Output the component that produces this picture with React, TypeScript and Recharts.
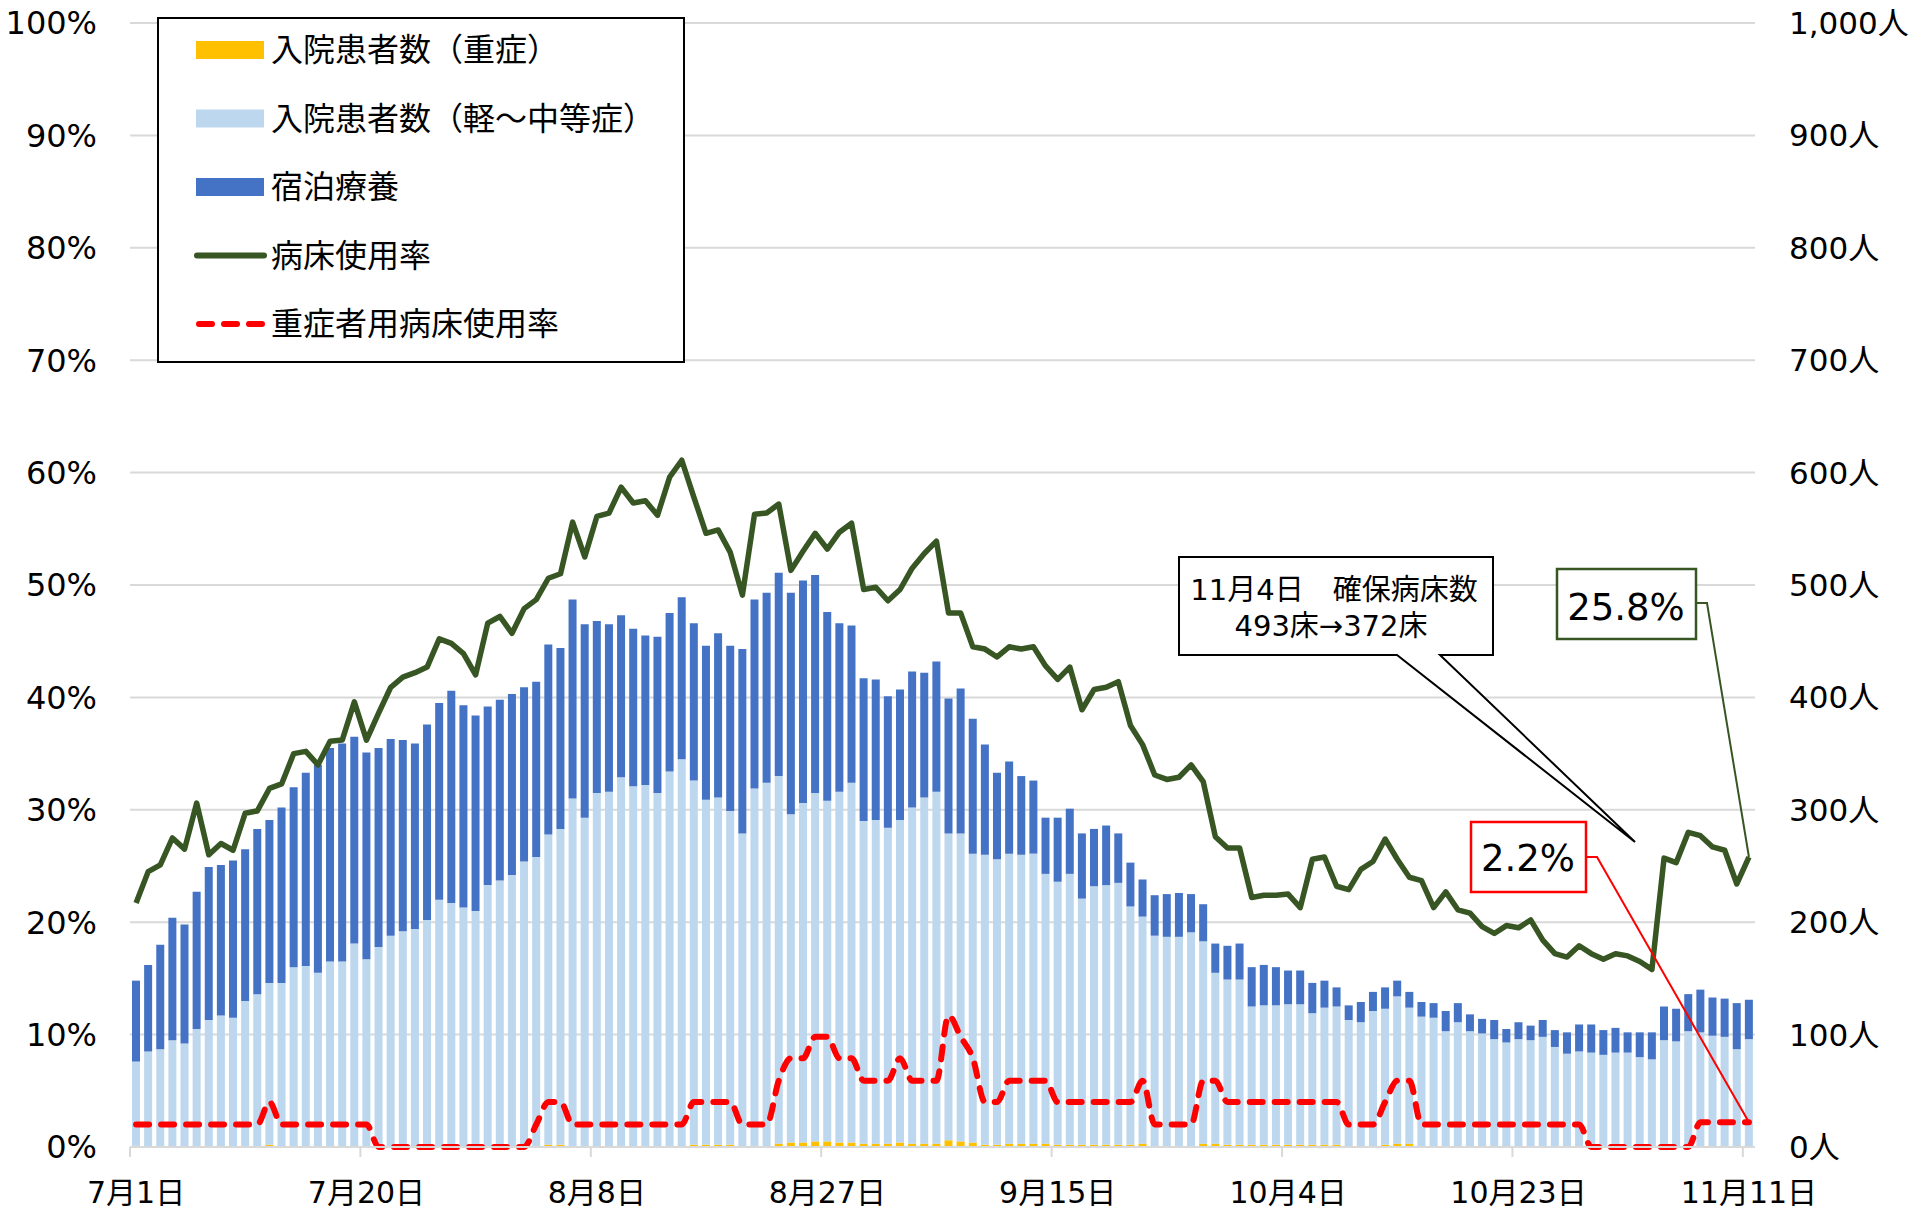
import React from "react";
import {
  ComposedChart,
  Bar,
  Line,
  XAxis,
  YAxis,
  CartesianGrid,
  LabelList,
} from "recharts";

// month, first day, last day shown
const monthSpans: [number, number, number][] = [
  [7, 1, 31],
  [8, 1, 31],
  [9, 1, 30],
  [10, 1, 31],
  [11, 1, 11],
];

const tickLabels = ["7月1日", "7月20日", "8月8日", "8月27日", "9月15日", "10月4日", "10月23日", "11月11日"];
const leftTicks = [0, 10, 20, 30, 40, 50, 60, 70, 80, 90, 100];
const rightTicks = [0, 100, 200, 300, 400, 500, 600, 700, 800, 900, 1000];

// 入院患者数（重症） 人
const severe = [
  1, 1, 1, 1, 1, 1, 1, 1, 1, 1, 1, 2, 1, 1, 1, 1, 1, 1, 1, 1,
  0, 0, 0, 0, 0, 0, 0, 0, 0, 0, 0, 0, 0, 1, 2, 2, 1, 1, 1, 1,
  1, 1, 1, 1, 1, 1, 2, 2, 2, 2, 1, 1, 1, 3, 4, 4, 5, 5, 4, 4,
  3, 3, 3, 4, 3, 3, 3, 6, 5, 4, 2, 2, 3, 3, 3, 3, 2, 2, 2, 2,
  2, 2, 2, 3, 1, 1, 1, 1, 3, 3, 2, 2, 2, 2, 2, 2, 2, 2, 2, 2,
  1, 1, 1, 2, 3, 3, 1, 1, 1, 1, 1, 1, 1, 1, 1, 1, 1, 1, 1, 1,
  0, 0, 0, 0, 0, 0, 0, 0, 0, 1, 1, 1, 1, 1,
];

// 入院患者数（軽～中等症） 人
const mild = [
  75, 84, 86, 94, 91, 104, 112, 116, 114, 129, 135, 144, 145, 159, 160, 154, 164, 164, 180, 166,
  178, 188, 192, 194, 202, 220, 217, 213, 210, 233, 237, 242, 254, 257, 276, 281, 309, 292, 314, 315,
  328, 320, 321, 314, 333, 344, 324, 307, 309, 297, 278, 318, 323, 327, 292, 302, 310, 303, 312, 320,
  287, 288, 281, 287, 299, 308, 313, 273, 274, 257, 258, 254, 258, 257, 258, 240, 234, 241, 219, 230,
  231, 233, 212, 202, 187, 186, 186, 190, 180, 152, 147, 147, 123, 124, 124, 125, 125, 117, 122, 123,
  112, 110, 120, 121, 131, 121, 115, 114, 102, 110, 102, 100, 95, 92, 95, 94, 97, 88, 82, 84,
  84, 82, 84, 84, 80, 78, 95, 94, 103, 101, 98, 97, 86, 95,
];

// 宿泊療養 人
const hotel = [
  72, 77, 93, 109, 106, 122, 136, 134, 140, 135, 147, 145, 156, 160, 172, 185, 190, 194, 184, 184,
  177, 175, 170, 165, 174, 175, 189, 180, 174, 159, 161, 161, 155, 156, 169, 161, 177, 172, 153, 149,
  144, 140, 133, 139, 141, 144, 140, 137, 146, 147, 164, 168, 169, 181, 197, 198, 194, 168, 150, 140,
  127, 125, 117, 116, 121, 111, 116, 120, 129, 120, 98, 77, 82, 70, 65, 50, 57, 58, 58, 51,
  53, 44, 39, 33, 36, 38, 39, 34, 33, 26, 30, 32, 35, 36, 34, 30, 30, 27, 24, 17,
  13, 18, 17, 19, 14, 14, 13, 13, 18, 17, 15, 13, 17, 12, 15, 13, 15, 15, 19, 24,
  25, 22, 22, 18, 22, 24, 30, 29, 33, 38, 34, 34, 41, 35,
];

// 病床使用率 %
const bedRate = [
  21.7, 24.5, 25.1, 27.5, 26.5, 30.6, 26.0, 27.0, 26.4, 29.7, 29.9, 31.9, 32.3, 35.0, 35.2, 34.0, 36.1, 36.2, 39.6, 36.2,
  38.6, 40.9, 41.8, 42.2, 42.7, 45.2, 44.8, 43.9, 42.0, 46.6, 47.2, 45.7, 47.9, 48.7, 50.6, 51.0, 55.6, 52.5, 56.1, 56.4,
  58.7, 57.3, 57.5, 56.2, 59.6, 61.1, 57.8, 54.6, 54.9, 52.9, 49.1, 56.3, 56.4, 57.2, 51.3, 53.0, 54.6, 53.2, 54.7, 55.5,
  49.6, 49.8, 48.6, 49.6, 51.5, 52.8, 53.9, 47.5, 47.5, 44.5, 44.3, 43.6, 44.5, 44.3, 44.5, 42.8, 41.6, 42.7, 38.9, 40.7,
  40.9, 41.4, 37.5, 35.8, 33.1, 32.7, 32.9, 34.0, 32.5, 27.6, 26.6, 26.6, 22.2, 22.4, 22.4, 22.5, 21.3, 25.6, 25.8, 23.2,
  22.9, 24.7, 25.4, 27.4, 25.6, 24.0, 23.7, 21.3, 22.7, 21.1, 20.8, 19.6, 19.0, 19.7, 19.5, 20.2, 18.4, 17.2, 16.9, 17.9,
  17.2, 16.7, 17.2, 17.0, 16.5, 15.8, 25.7, 25.3, 28.0, 27.7, 26.7, 26.4, 23.4, 25.8,
];

// 重症者用病床使用率 %
const severeBedRate = [
  2.0, 2.0, 2.0, 2.0, 2.0, 2.0, 2.0, 2.0, 2.0, 2.0, 2.0, 4.0, 2.0, 2.0, 2.0, 2.0, 2.0, 2.0, 2.0, 2.0,
  0, 0, 0, 0, 0, 0, 0, 0, 0, 0, 0, 0, 0, 2.0, 4.0, 4.0, 2.0, 2.0, 2.0, 2.0,
  2.0, 2.0, 2.0, 2.0, 2.0, 2.0, 4.0, 4.0, 4.0, 4.0, 2.0, 2.0, 2.0, 5.9, 7.9, 7.9, 9.8, 9.8, 7.9, 7.9,
  5.9, 5.9, 5.9, 7.9, 5.9, 5.9, 5.9, 11.7, 9.8, 7.9, 4.0, 4.0, 5.9, 5.9, 5.9, 5.9, 4.0, 4.0, 4.0, 4.0,
  4.0, 4.0, 4.0, 5.9, 2.0, 2.0, 2.0, 2.0, 5.9, 5.9, 4.0, 4.0, 4.0, 4.0, 4.0, 4.0, 4.0, 4.0, 4.0, 4.0,
  2.0, 2.0, 2.0, 4.0, 5.9, 5.9, 2.0, 2.0, 2.0, 2.0, 2.0, 2.0, 2.0, 2.0, 2.0, 2.0, 2.0, 2.0, 2.0, 2.0,
  0, 0, 0, 0, 0, 0, 0, 0, 0, 2.2, 2.2, 2.2, 2.2, 2.2,
];

const dates: string[] = [];
monthSpans.forEach(([m, first, last]) => {
  for (let d = first; d <= last; d++) dates.push(`${m}月${d}日`);
});

const data = dates.map((date, i) => ({
  date,
  severe: severe[i],
  mild: mild[i],
  hotel: hotel[i],
  bedRate: bedRate[i],
  severeBedRate: severeBedRate[i],
}));

const W = 1915;
const H = 1209;
const LEFT_W = 130;
const RIGHT_W = 160;
const TOP = 23;
const X_H = 62;
const BAND = (W - LEFT_W - RIGHT_W) / dates.length;

const FONT = "'DejaVu Sans', 'Noto Sans CJK JP', sans-serif";
const TEXT = "#000";
const GRID = "#D9D9D9";
const YELLOW = "#FFC000";
const LIGHT = "#BDD7EE";
const DARK = "#4472C4";
const GREEN = "#375623";
const RED = "#FF0000";

const XTick = (props: any) => {
  const { x, y, payload } = props;
  const tx = x - BAND / 2;
  return (
    <g>
      <line x1={tx} x2={tx} y1={y} y2={y + 10} stroke={GRID} strokeWidth={2} />
      <text x={x} y={y + 56} textAnchor="middle" fontSize={30} fontFamily={FONT} fill={TEXT}>
        {payload.value}
      </text>
    </g>
  );
};

const lastIndex = dates.length - 1;

const RateLabel = (props: any) => {
  const { x, y, index } = props;
  if (index !== lastIndex) return null;
  return (
    <g>
      <polyline points={`${x},${y} 1707,603 1696,603`} fill="none" stroke={GREEN} strokeWidth={2} />
      <rect x={1557} y={569} width={139} height={70} fill="#fff" stroke={GREEN} strokeWidth={2.5} />
      <text x={1626} y={620} textAnchor="middle" fontSize={37} fontFamily={FONT} fill={TEXT}>
        25.8%
      </text>
    </g>
  );
};

const SevereLabel = (props: any) => {
  const { x, y, index } = props;
  if (index !== lastIndex) return null;
  return (
    <g>
      <polyline points={`${x},${y} 1597,857 1586,857`} fill="none" stroke={RED} strokeWidth={2} />
      <rect x={1471} y={822} width={115} height={70} fill="#fff" stroke={RED} strokeWidth={2.5} />
      <text x={1528} y={871} textAnchor="middle" fontSize={37} fontFamily={FONT} fill={TEXT}>
        2.2%
      </text>
    </g>
  );
};

const legendRows = [
  { label: "入院患者数（重症）", kind: "bar", color: YELLOW },
  { label: "入院患者数（軽～中等症）", kind: "bar", color: LIGHT },
  { label: "宿泊療養", kind: "bar", color: DARK },
  { label: "病床使用率", kind: "line", color: GREEN },
  { label: "重症者用病床使用率", kind: "dash", color: RED },
];

function Overlay() {
  return (
    <svg
      width={W}
      height={H}
      style={{ position: "absolute", left: 0, top: 0, pointerEvents: "none" }}
    >
      <rect x={158} y={18} width={526} height={344} fill="#fff" stroke="#000" strokeWidth={2} />
      {legendRows.map((r, i) => {
        const cy = 50 + i * 68.5;
        return (
          <g key={r.label}>
            {r.kind === "bar" && <rect x={196} y={cy - 9} width={68} height={18} fill={r.color} />}
            {r.kind === "line" && (
              <line x1={197} x2={264} y1={cy} y2={cy} stroke={r.color} strokeWidth={6} strokeLinecap="round" />
            )}
            {r.kind === "dash" && (
              <line
                x1={199}
                x2={262}
                y1={cy}
                y2={cy}
                stroke={r.color}
                strokeWidth={6}
                strokeLinecap="round"
                strokeDasharray="13 12"
              />
            )}
            <text x={271} y={cy + 11} fontSize={32} fontFamily={FONT} fill={TEXT}>
              {r.label}
            </text>
          </g>
        );
      })}

      <path
        d="M1179,557 H1493 V655 H1440 L1635,842 L1397,655 H1179 Z"
        fill="#fff"
        stroke="#000"
        strokeWidth={2}
      />
      <text x={1334} y={600} textAnchor="middle" fontSize={29} fontFamily={FONT} fill={TEXT}>
        11月4日　確保病床数
      </text>
      <text x={1331} y={636} textAnchor="middle" fontSize={29} fontFamily={FONT} fill={TEXT}>
        493床→372床
      </text>
    </svg>
  );
}

export default function App() {
  return (
    <div style={{ position: "absolute", left: 0, top: 0, width: W, height: H, background: "#fff" }}>
      <ComposedChart
        width={W}
        height={H}
        data={data}
        margin={{ top: TOP, right: 0, bottom: 0, left: 0 }}
      >
        <CartesianGrid vertical={false} stroke={GRID} strokeWidth={2} yAxisId="left" />
        <XAxis
          dataKey="date"
          height={X_H}
          ticks={tickLabels}
          interval={0}
          tick={<XTick />}
          tickSize={0}
          tickMargin={0}
          tickLine={false}
          axisLine={{ stroke: GRID, strokeWidth: 2 }}
        />
        <YAxis
          yAxisId="left"
          orientation="left"
          width={LEFT_W}
          domain={[0, 100]}
          ticks={leftTicks}
          interval={0}
          tickFormatter={(v: number) => `${v}%`}
          tick={{ fill: TEXT, fontSize: 32, fontFamily: FONT }}
          tickSize={0}
          tickMargin={33}
          tickLine={false}
          axisLine={false}
        />
        <YAxis
          yAxisId="right"
          orientation="right"
          width={RIGHT_W}
          domain={[0, 1000]}
          ticks={rightTicks}
          interval={0}
          tickFormatter={(v: number) => `${v.toLocaleString("en-US")}人`}
          tick={{ fill: TEXT, fontSize: 31, fontFamily: FONT }}
          tickSize={0}
          tickMargin={34}
          tickLine={false}
          axisLine={false}
        />
        <Bar yAxisId="right" dataKey="severe" stackId="p" fill={YELLOW} barSize={8} isAnimationActive={false} />
        <Bar yAxisId="right" dataKey="mild" stackId="p" fill={LIGHT} barSize={8} isAnimationActive={false} />
        <Bar yAxisId="right" dataKey="hotel" stackId="p" fill={DARK} barSize={8} isAnimationActive={false} />
        <Line
          yAxisId="left"
          type="linear"
          dataKey="bedRate"
          stroke={GREEN}
          strokeWidth={5.5}
          strokeLinejoin="round"
          dot={false}
          activeDot={false}
          isAnimationActive={false}
        >
          <LabelList dataKey="bedRate" content={<RateLabel />} />
        </Line>
        <Line
          yAxisId="left"
          type="monotone"
          dataKey="severeBedRate"
          stroke={RED}
          strokeWidth={6}
          strokeDasharray="13 12"
          strokeLinecap="round"
          dot={false}
          activeDot={false}
          isAnimationActive={false}
        >
          <LabelList dataKey="severeBedRate" content={<SevereLabel />} />
        </Line>
      </ComposedChart>
      <Overlay />
    </div>
  );
}
